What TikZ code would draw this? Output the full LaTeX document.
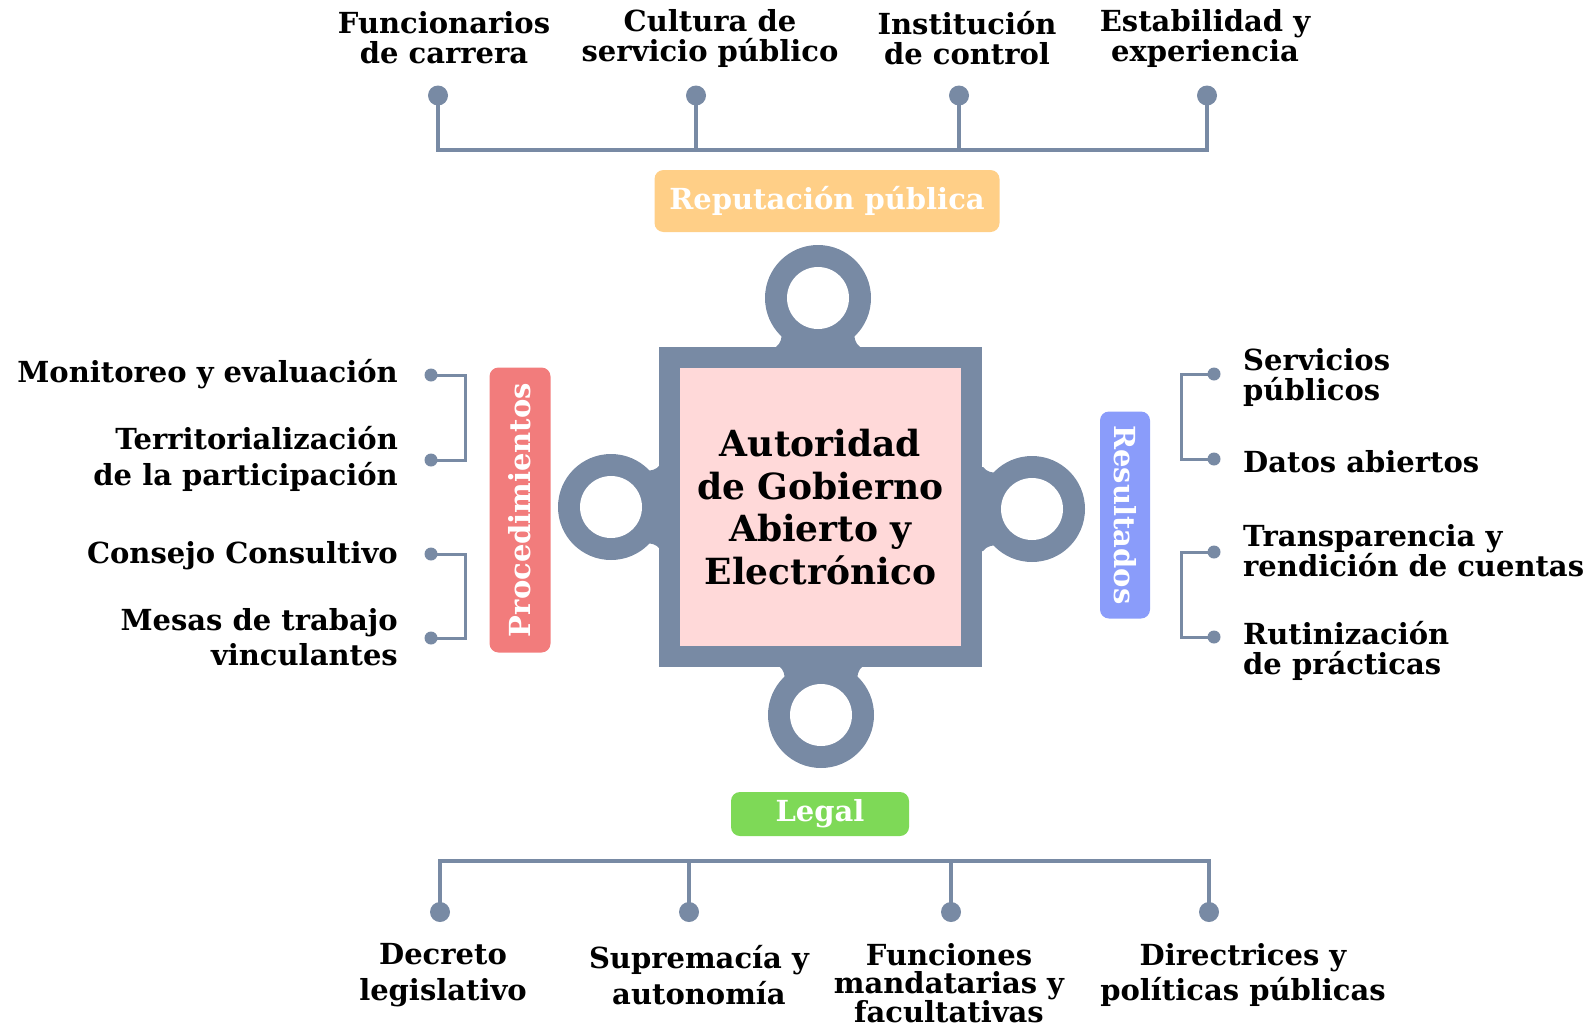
\documentclass[tikz,border=0pt]{standalone}
\usepackage{fontspec}
\setmainfont{DejaVu Serif}
\definecolor{slate}{RGB}{120,138,164}
\definecolor{blush}{RGB}{255,217,217}
\definecolor{salmon}{RGB}{242,124,124}
\definecolor{periwinkle}{RGB}{138,156,250}
\definecolor{apricot}{RGB}{255,207,135}
\definecolor{leaf}{RGB}{126,217,87}
\begin{document}
\begin{tikzpicture}[x=1pt,y=-1pt]
\tikzstyle{wire}=[slate,line width=4pt]
\tikzstyle{thinwire}=[slate,line width=3pt]
\tikzstyle{lbl}=[inner sep=0pt,font=\bfseries\fontsize{29}{30}\selectfont]
\tikzstyle{lblwide}=[inner sep=0pt,font=\bfseries\fontsize{29}{35.5}\selectfont]
\tikzstyle{tag}=[rounded corners=9pt,inner sep=0pt,text=white,font=\bfseries\fontsize{29}{30}\selectfont]
\useasboundingbox (0,0) rectangle (1593,1028);
% rings round the centre
\foreach \cx/\cy/\a in {818/298/0,821/715/180,611/507/90,1032/509/-90}{
  \begin{scope}[shift={(\cx,\cy)},rotate=\a]
    \fill[slate] (0,0) circle (53pt);
    \fill[slate] (-42,58) -- (-42,49) .. controls (-37,45) and (-36,40) .. (-36,32)
      -- (36,32) .. controls (36,40) and (37,45) .. (42,49) -- (42,58) -- cycle;
    \fill[white] (0,0) circle (31pt);
  \end{scope}
}
\node[draw=slate,line width=21pt,fill=blush,minimum width=302pt,minimum height=299pt,
  align=center,inner sep=0pt,font=\bfseries\fontsize{36}{42.5}\selectfont]
  (core) at (820.5,507) {Autoridad\\de Gobierno\\Abierto y\\Electrónico};
% tags
\node[tag,fill=apricot,minimum width=345pt,minimum height=62pt] (rep) at (827,201) {Reputación pública};
\node[tag,fill=leaf,minimum width=178pt,minimum height=44pt] (leg) at (820,814) {Legal};
\node[tag,fill=salmon,rotate=90,minimum width=285pt,minimum height=61pt] (proc) at (520,510) {Procedimientos};
\node[tag,fill=periwinkle,rotate=-90,minimum width=207pt,minimum height=50pt] (res) at (1125,515) {Resultados};
% top
\coordinate (T1) at (438,95.5);
\coordinate (T2) at (696,95.5);
\coordinate (T3) at (959,95.5);
\coordinate (T4) at (1207,95.5);
\draw[wire] (T1) -- ++(0,54.5) -| (T4);
\draw[wire] (T2) -- ++(0,54.5);
\draw[wire] (T3) -- ++(0,54.5);
\node[lbl,align=center] (t1) at (444,38) {Funcionarios\\de carrera};
\node[lbl,align=center] (t2) at (710,38) {Cultura de\\servicio público};
\node[lbl,align=center] (t3) at (967,38) {Institución\\de control};
\node[lbl,align=center] (t4) at (1205,38) {Estabilidad y\\experiencia};
% bottom
\coordinate (B1) at (440,912);
\coordinate (B2) at (689,912);
\coordinate (B3) at (951,912);
\coordinate (B4) at (1209,912);
\draw[wire] (B1) -- ++(0,-51.5) -| (B4);
\draw[wire] (B2) -- ++(0,-51.5);
\draw[wire] (B3) -- ++(0,-51.5);
\node[lblwide,align=center] (b1) at (443,975) {Decreto\\legislativo};
\node[lblwide,align=center] (b2) at (699,975) {Supremacía y\\autonomía};
\node[inner sep=0pt,font=\bfseries\fontsize{29}{28.5}\selectfont,align=center] (b3) at (949,983) {Funciones\\mandatarias y\\facultativas};
\node[lblwide,align=center] (b4) at (1243,975) {Directrices y\\políticas públicas};
% left
\coordinate (L1) at (431,375);
\coordinate (L2) at (431,460);
\coordinate (L3) at (431,554);
\coordinate (L4) at (431,638);
\draw[thinwire] (L1) -- ++(34,0) |- (L2);
\draw[thinwire] (L3) -- ++(34,0) |- (L4);
\node[lblwide,anchor=east,align=right] (l1) at (398,374) {Monitoreo y evaluación};
\node[lblwide,anchor=east,align=right] (l2) at (398,459) {Territorialización\\de la participación};
\node[lblwide,anchor=east,align=right] (l3) at (398,556) {Consejo Consultivo};
\node[lblwide,anchor=east,align=right] (l4) at (398,637) {Mesas de trabajo\\vinculantes};
% right
\coordinate (R1) at (1214,374);
\coordinate (R2) at (1214,459);
\coordinate (R3) at (1214,552);
\coordinate (R4) at (1214,637);
\draw[thinwire] (R1) -- ++(-33,0) |- (R2);
\draw[thinwire] (R3) -- ++(-33,0) |- (R4);
\node[lbl,anchor=west,align=left] (r1) at (1243,377) {Servicios\\públicos};
\node[lbl,anchor=west,align=left] (r2) at (1243,462) {Datos abiertos};
\node[lbl,anchor=west,align=left] (r3) at (1243,551) {Transparencia y\\rendición de cuentas};
\node[lbl,anchor=west,align=left] (r4) at (1243,651) {Rutinización\\de prácticas};
% dots
\foreach \p in {T1,T2,T3,T4,B1,B2,B3,B4}
	\fill[slate] (\p) circle (10pt);
\foreach \p in {L1,L2,L3,L4,R1,R2,R3,R4}
	\fill[slate] (\p) circle (6.5pt);
\end{tikzpicture}
\end{document}
